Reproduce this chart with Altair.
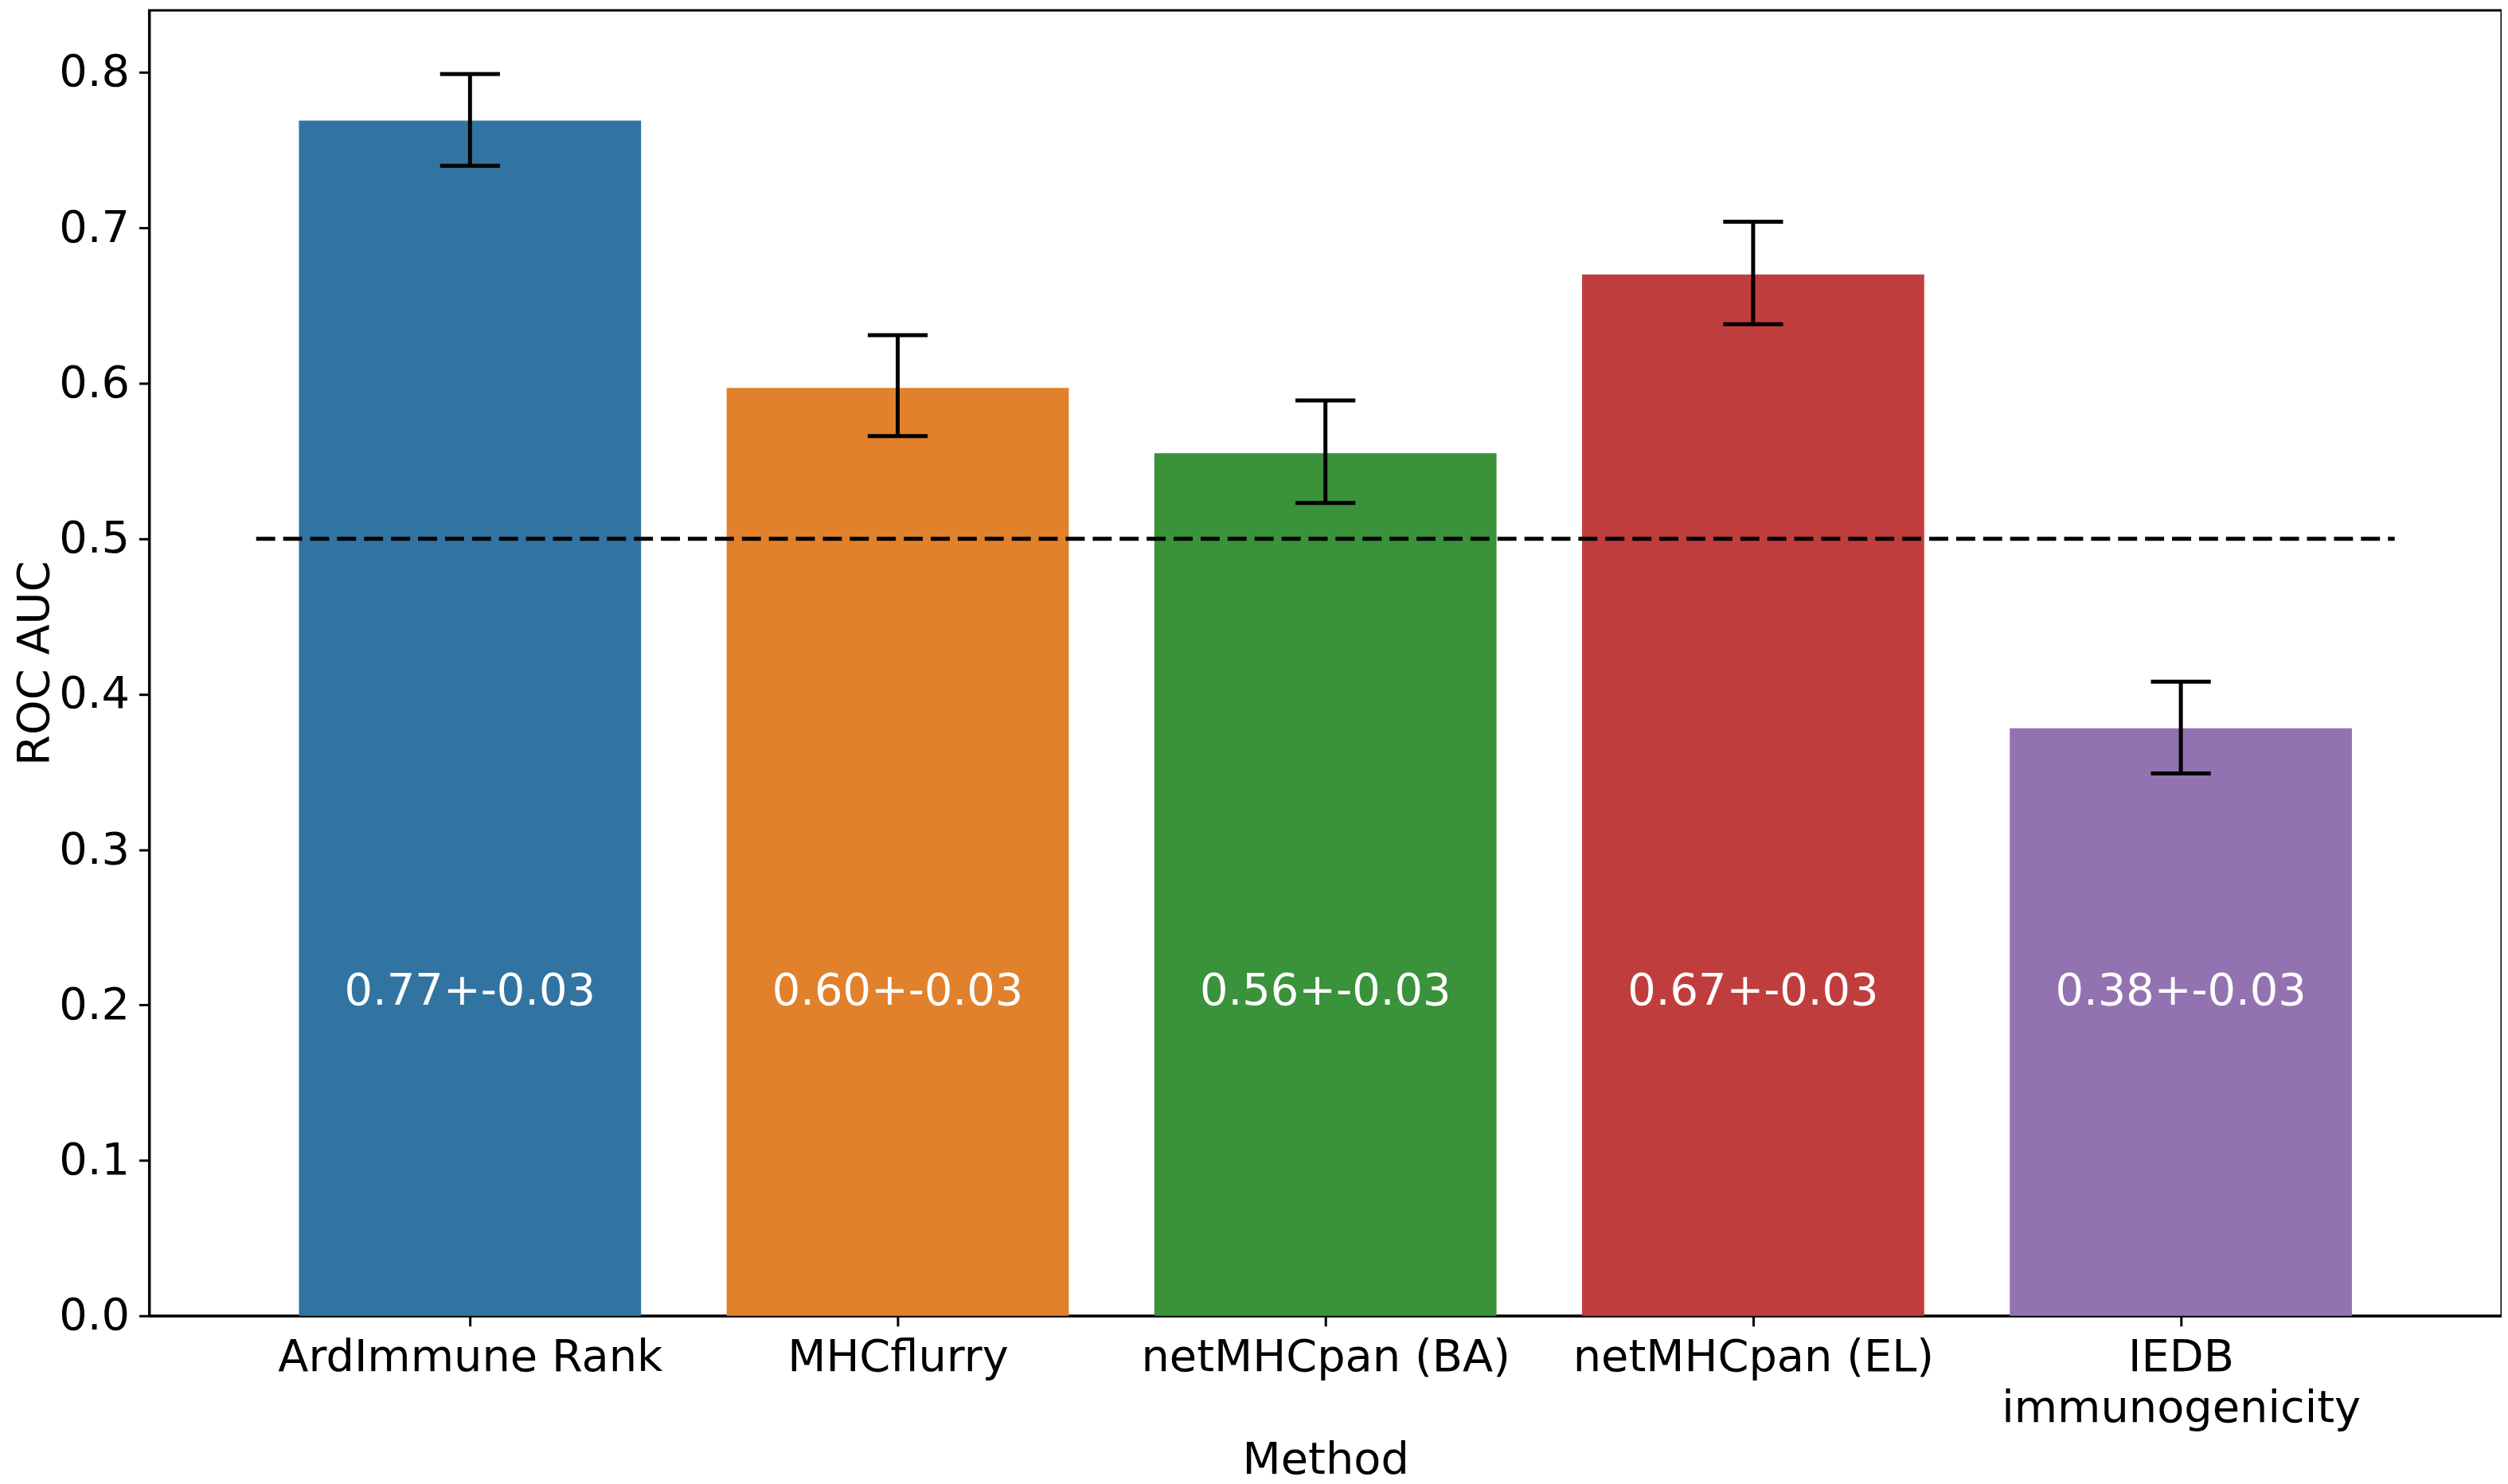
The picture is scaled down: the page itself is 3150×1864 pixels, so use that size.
import altair as alt
import pandas as pd

methods = ["ArdImmune Rank", "MHCflurry", "netMHCpan (BA)", "netMHCpan (EL)", "IEDB\nimmunogenicity"]
auc = [0.769, 0.597, 0.555, 0.670, 0.378]
err_lo = [0.740, 0.566, 0.523, 0.638, 0.349]
err_hi = [0.799, 0.631, 0.589, 0.704, 0.408]
bar_labels = ["0.77+-0.03", "0.60+-0.03", "0.56+-0.03", "0.67+-0.03", "0.38+-0.03"]
colors = ["#3274A1", "#E1812C", "#3A923A", "#C03D3E", "#9372B2"]
y_ticks = [0.0, 0.1, 0.2, 0.3, 0.4, 0.5, 0.6, 0.7, 0.8]
chance_level = 0.5
chance_span = [-0.5, 4.5]
label_level = 0.2

df = pd.DataFrame({
    "idx": list(range(len(methods))),
    "method": methods,
    "auc": auc,
    "lo": err_lo,
    "hi": err_hi,
    "label": bar_labels,
})
ref = pd.DataFrame({"x": [chance_span[0]], "x2": [chance_span[1]], "y": [chance_level]})

FONT = "DejaVu Sans"
FS = 56

# label expression built from the method list (multi-line where needed)
parts = []
for m in methods:
    lines = m.split("\n")
    if len(lines) > 1:
        parts.append("[" + ",".join("'" + l + "'" for l in lines) + "]")
    else:
        parts.append("'" + m + "'")
label_expr = "[" + ",".join(parts) + "][datum.value]"

xscale = alt.Scale(domain=[-0.75, 4.75], nice=False, zero=False)
yscale = alt.Scale(domain=[0, 0.84], nice=False)

xaxis = alt.Axis(values=list(range(len(methods))), labelExpr=label_expr, title="Method",
                 grid=False, tickSize=13, tickWidth=3, tickColor="black",
                 domainColor="black", domainWidth=3, labelFont=FONT, labelFontSize=FS,
                 labelColor="black", labelPadding=12, labelLineHeight=64, labelLimit=0,
                 titleFont=FONT, titleFontSize=FS, titleFontWeight="normal",
                 titleColor="black", titlePadding=10, labelAngle=0)
yaxis = alt.Axis(values=y_ticks, format=".1f", title="ROC AUC", grid=False,
                 tickSize=13, tickWidth=3, tickColor="black",
                 domainColor="black", domainWidth=3, labelFont=FONT, labelFontSize=FS,
                 labelColor="black", labelPadding=12,
                 titleFont=FONT, titleFontSize=FS, titleFontWeight="normal",
                 titleColor="black", titlePadding=1)

base = alt.Chart(df)

bars = base.transform_calculate(
    x0="datum.idx - 0.4", x1="datum.idx + 0.4"
).mark_rect().encode(
    x=alt.X("x0:Q", scale=xscale, axis=xaxis),
    x2="x1:Q",
    y=alt.Y("auc:Q", scale=yscale, axis=yaxis),
    y2=alt.datum(0),
    color=alt.Color("method:N", scale=alt.Scale(domain=methods, range=colors), legend=None),
)

err = base.mark_rule(color="black", strokeWidth=5).encode(
    x=alt.X("idx:Q", scale=xscale),
    y=alt.Y("lo:Q", scale=yscale),
    y2="hi:Q",
)

cap_lo = base.transform_calculate(
    c0="datum.idx - 0.07", c1="datum.idx + 0.07"
).mark_rule(color="black", strokeWidth=5).encode(
    x=alt.X("c0:Q", scale=xscale), x2="c1:Q", y=alt.Y("lo:Q", scale=yscale)
)
cap_hi = base.transform_calculate(
    c0="datum.idx - 0.07", c1="datum.idx + 0.07"
).mark_rule(color="black", strokeWidth=5).encode(
    x=alt.X("c0:Q", scale=xscale), x2="c1:Q", y=alt.Y("hi:Q", scale=yscale)
)

chance = alt.Chart(ref).mark_rule(color="black", strokeWidth=5, strokeDash=[24, 10]).encode(
    x=alt.X("x:Q", scale=xscale), x2="x2:Q", y=alt.Y("y:Q", scale=yscale)
)

texts = base.mark_text(color="white", font=FONT, fontSize=FS, baseline="alphabetic", align="center").encode(
    x=alt.X("idx:Q", scale=xscale),
    y=alt.datum(label_level),
    text="label:N",
)

chart = alt.layer(bars, chance, err, cap_lo, cap_hi, texts).properties(
    width=2964, height=1645,
    autosize=alt.AutoSizeParams(type="none"),
    padding={"left": 180, "top": 2, "right": 0, "bottom": 209},
    background="white",
).configure_view(stroke="black", strokeWidth=3)

chart.save("out.html", embed_options={"renderer": "svg", "actions": False})
